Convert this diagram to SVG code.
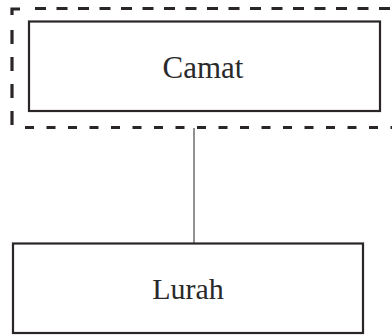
<svg xmlns="http://www.w3.org/2000/svg" width="392" height="335" viewBox="0 0 392 335">
<style>
.box{fill:#fff;stroke:#2a2526;stroke-width:2.2}
.lbl{font-family:"Liberation Serif",serif;fill:#2a2a2a;text-anchor:middle}
.dash{fill:none;stroke:#2a2526;stroke-width:3.2}
.conn{stroke:#555;stroke-width:1.3;fill:none}
</style>
<rect width="392" height="335" fill="#fff"/>
<g id="boundary">
<path class="dash" d="M12,15 V9 H20"/>
<path class="dash" d="M12,30 V128" stroke-dasharray="14 13"/>
<path class="dash" d="M35,8.5 H395" stroke-dasharray="11 10.5"/>
<path class="dash" d="M25,127.5 H395" stroke-dasharray="9 12.5"/>
</g>
<g id="connectors">
<line class="conn" x1="194" y1="128" x2="194" y2="243"/>
</g>
<g id="camat">
<rect class="box" x="29" y="21.5" width="351" height="89.5"/>
<text class="lbl" x="203" y="78" font-size="31">Camat</text>
</g>
<g id="lurah">
<rect class="box" x="13" y="243.5" width="350" height="89.5"/>
<text class="lbl" x="188" y="299" font-size="30">Lurah</text>
</g>
</svg>
